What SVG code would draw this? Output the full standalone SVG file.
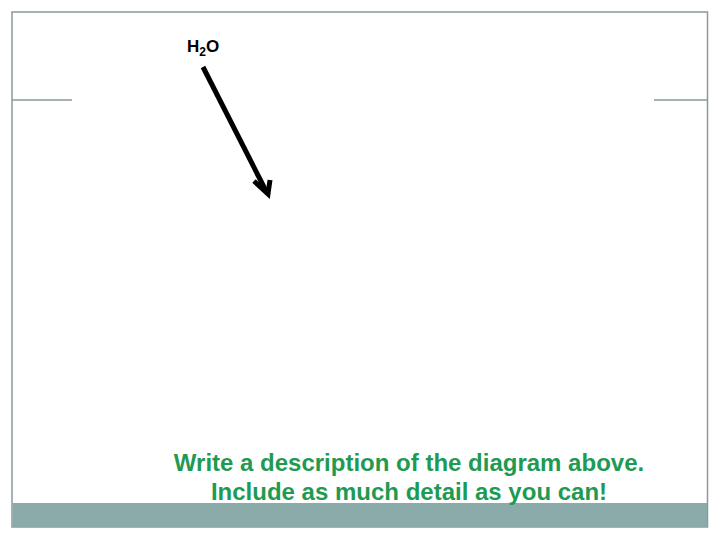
<svg xmlns="http://www.w3.org/2000/svg" width="720" height="540" viewBox="0 0 720 540">
<style>
.frame{fill:none;stroke:#8a9a9a;stroke-width:1.5}
.lbl{font-family:"Liberation Sans",Arial,sans-serif;font-weight:bold}
.green{fill:#1f9a52;font-size:24px}
</style>
<rect width="720" height="540" fill="#fff"/>
<g id="frame">
<rect class="frame" x="12" y="12" width="695.5" height="515"/>
<line class="frame" x1="12" y1="100" x2="72" y2="100"/>
<line class="frame" x1="654" y1="100" x2="707.5" y2="100"/>
<rect x="12.5" y="503" width="694.5" height="24" fill="#8aabaa"/>
</g>
<g id="h2o">
<text class="lbl" x="187" y="52" font-size="17">H<tspan font-size="12" dy="4">2</tspan><tspan dy="-4">O</tspan></text>
</g>
<g id="connectors">
<line x1="203" y1="67" x2="267" y2="193" stroke="#000" stroke-width="5"/>
<polyline points="254,181 268,194 270,180" fill="none" stroke="#000" stroke-width="5" stroke-linejoin="miter"/>
</g>
<g id="caption">
<text class="lbl green" x="409" y="471" text-anchor="middle">Write a description of the diagram above.</text>
<text class="lbl green" x="409" y="500" text-anchor="middle">Include as much detail as you can!</text>
</g>
</svg>
